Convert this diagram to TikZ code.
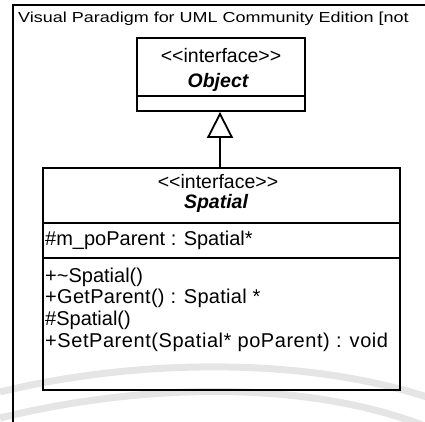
\documentclass[tikz,border=0pt]{standalone}
\usepackage{fontspec}
\setmainfont{Liberation Sans}
\usetikzlibrary{arrows.meta}
\begin{document}
\begin{tikzpicture}[x=1pt,y=-1pt,
  umlbox/.style={draw, line width=1.8pt, inner sep=0pt},
  frameline/.style={line width=2pt},
  sepline/.style={line width=1.6pt},
  member/.style={anchor=west, inner sep=0pt, font=\fontsize{20}{20}\selectfont},
  stereo/.style={inner sep=0pt, font=\fontsize{19.5}{20}\selectfont},
  classname/.style={inner sep=0pt, font=\fontsize{19.5}{20}\selectfont\bfseries\itshape},
  watermark/.style={line width=7pt, draw=black!10},
  realize/.style={-{Triangle[open, length=26pt, width=26pt, line width=1.8pt]}, line width=1.8pt}
]
\useasboundingbox (0,0) rectangle (425,421);
\clip (0,0) rectangle (425,421);

% faint watermark bands
\draw[watermark] (0,392) .. controls (130,360) and (300,355) .. (430,398);
\draw[watermark] (0,418) .. controls (130,386) and (300,376) .. (430,428);

% diagram frame
\draw[frameline] (13,425) -- (13,5) -- (430,5);
\node[anchor=base west, inner sep=0pt] (title) at (18,22)
  {\scalebox{1.24}[1]{\fontsize{14.5}{15}\selectfont Visual Paradigm for UML Community Edition [not}};

% interface Object
\node[umlbox, minimum width=168pt, minimum height=73pt] (object) at (221,74.5) {};
\node[stereo] (objstereo) at (221,56) {<{}<interface>{}>};
\node[classname] (objname) at (218,82) {Object};
\draw[sepline] (object.west |- 0,96) coordinate (objsepL) -- (object.east |- 0,96) coordinate (objsepR);

% interface Spatial
\node[umlbox, minimum width=357pt, minimum height=222pt] (spatial) at (221.5,279) {};
\node[stereo] (spstereo) at (218,182) {<{}<interface>{}>};
\node[classname] (spname) at (216,203) {Spatial};
\draw[sepline] (spatial.west |- 0,223) coordinate (spsep1L) -- (spatial.east |- 0,223) coordinate (spsep1R);
\draw[sepline] (spatial.west |- 0,258) coordinate (spsep2L) -- (spatial.east |- 0,258) coordinate (spsep2R);

\node[member] (attr1) at (45,240) {\#m\_poParent : Spatial*};
\node[member] (op1) at (45,277) {+\textasciitilde Spatial()};
\node[member] (op2) at (45,298) {\addfontfeatures{LetterSpace=1.5}+GetParent() : Spatial *};
\node[member] (op3) at (45,320) {\#Spatial()};
\node[member] (op4) at (45,342) {\addfontfeatures{LetterSpace=2.8}+SetParent(Spatial* poParent) : void};

% generalization
\draw[realize] (spatial.north -| 220,0) -- (object.south -| 220,0);
\end{tikzpicture}
\end{document}
